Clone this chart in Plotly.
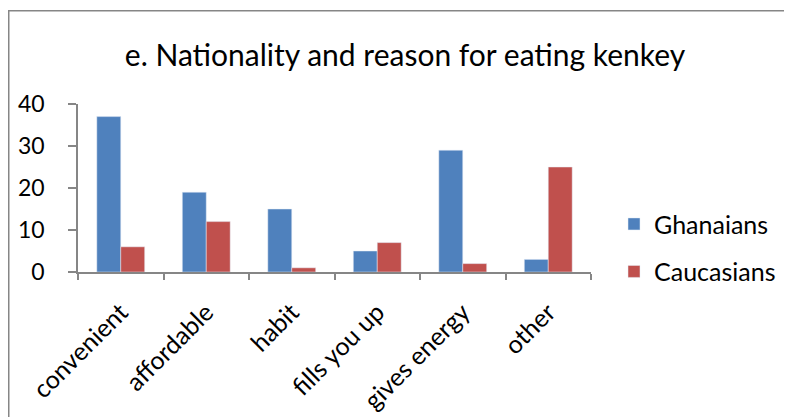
import plotly.graph_objects as go

categories = ["convenient", "affordable", "habit", "fills you up", "gives energy", "other"]
ghanaians = [37, 19, 15, 5, 29, 3]
caucasians = [6, 12, 1, 7, 2, 25]
y_ticks = [0, 10, 20, 30, 40]

FONT = "Lato"
AXIS_COLOR = "#868686"

fig = go.Figure()
fig.add_trace(go.Bar(x=categories, y=ghanaians, name="Ghanaians",
                     marker=dict(color="#4F81BD"), legendgroup="g"))
fig.add_trace(go.Bar(x=categories, y=caucasians, name="Caucasians",
                     marker=dict(color="#C0504D"), legendgroup="c"))

# the page body adds an 8px offset; figure coordinates below are page minus 8
W, H = 784, 409
L, T = 70, 96
pw = 513
ph = 167.7
R = W - L - pw
B = H - T - ph

fig.update_layout(
    width=W, height=H,
    margin=dict(l=L, r=R, t=T, b=B, autoexpand=False),
    paper_bgcolor="white", plot_bgcolor="white",
    barmode="group", bargap=0.44, bargroupgap=0,
    font=dict(family=FONT, color="black"),
    title=dict(text="e. Nationality and reason for eating kenkey",
               font=dict(family=FONT, size=30, color="black"),
               x=(397 - L) / pw, xref="paper", xanchor="center",
               y=1 - 47 / H, yref="container", yanchor="middle"),
    legend=dict(x=(606 - L) / pw, xanchor="left",
                y=(T + ph - 193) / ph, yanchor="top",
                font=dict(family=FONT, size=25, color="black"),
                tracegroupgap=12, bgcolor="rgba(0,0,0,0)"),
    showlegend=True,
)

fig.update_xaxes(
    type="category", showline=True, linecolor=AXIS_COLOR, linewidth=1.5,
    ticks="outside", tickson="boundaries", ticklen=6, tickcolor=AXIS_COLOR,
    tickwidth=1.5, tickangle=-45, ticklabelstandoff=14,
    tickfont=dict(family=FONT, size=25, color="black"),
    showgrid=False, automargin=False,
)
fig.update_yaxes(
    range=[0, 40], tickvals=y_ticks, showline=True, linecolor=AXIS_COLOR,
    linewidth=1.5, ticks="outside", ticklen=8, tickcolor=AXIS_COLOR, tickwidth=1.5,
    ticklabelstandoff=19,
    tickfont=dict(family=FONT, size=23, color="black"), showgrid=False,
    zeroline=False, automargin=False,
)

# chart area border
fig.add_shape(type="rect", xref="paper", yref="paper",
              x0=(0.75 - L) / pw, x1=(W + 10 - L) / pw,
              y0=-1.2, y1=(T + ph - 3) / ph,
              line=dict(color=AXIS_COLOR, width=1.5), fillcolor="rgba(0,0,0,0)",
              layer="below")

fig.write_html("out.html")
